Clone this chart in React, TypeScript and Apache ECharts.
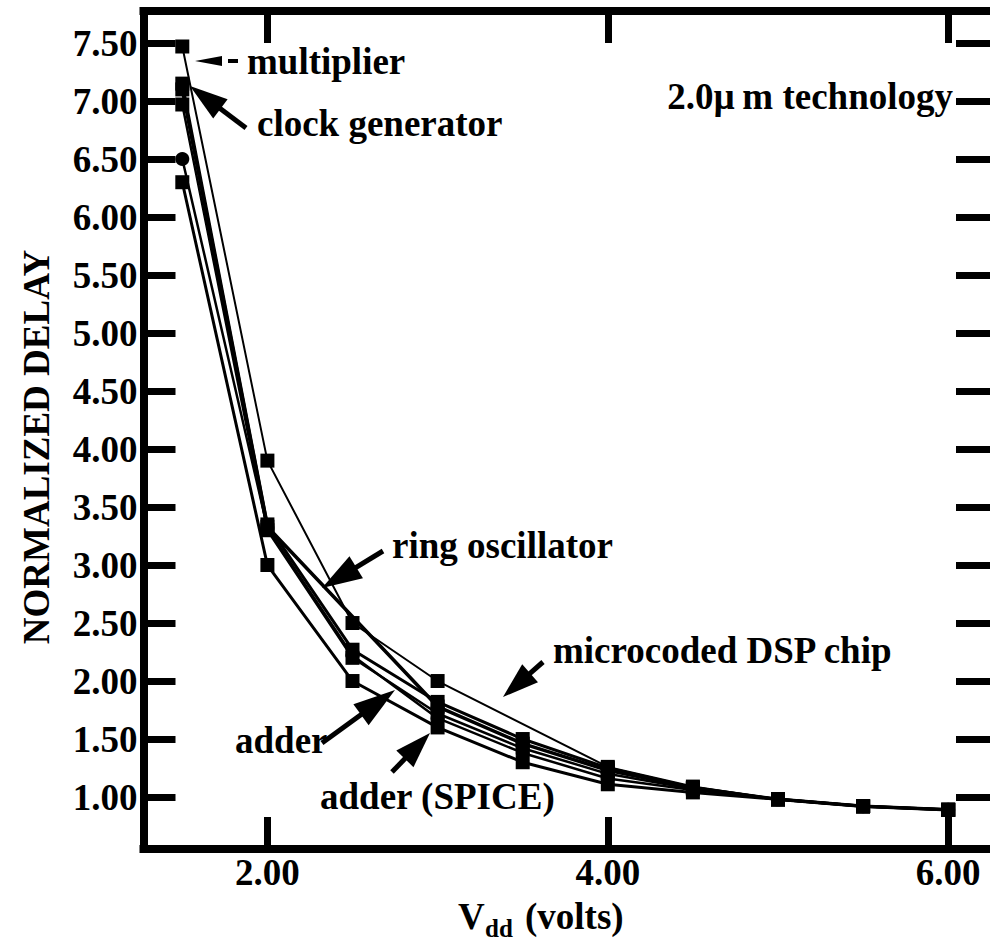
import React, { useEffect, useRef } from "react";
import * as echarts from "echarts";

// Supply voltage (x) values
const VDD = [1.5, 2.0, 2.5, 3.0, 3.5, 4.0, 4.5, 5.0, 5.5, 6.0];

// Normalized delay series (null = no measurement)
const multiplier = [7.47, 3.9, 2.5, 2.0, null, 1.26, 1.09, 0.98, 0.92, 0.89];
const clockGenerator = [7.15, 3.35, 2.27, 1.82, 1.5, 1.25, 1.08, 0.98, 0.92, 0.89];
const ringOscillator = [7.1, 3.33, null, 1.78, 1.46, 1.23, 1.08, 0.98, 0.92, 0.89];
const microcodedDSP = [6.97, 3.3, 2.2, 1.72, 1.42, 1.2, 1.07, 0.98, 0.92, 0.89];
const adder = [6.5, 3.32, 2.22, 1.68, 1.38, 1.16, 1.06, 0.98, 0.92, 0.89];
const adderSpice = [6.3, 3.0, 2.0, 1.6, 1.3, 1.11, 1.04, 0.98, 0.92, 0.89];

const X_TICKS = [2, 4, 6];
const Y_TICKS = [1.0, 1.5, 2.0, 2.5, 3.0, 3.5, 4.0, 4.5, 5.0, 5.5, 6.0, 6.5, 7.0, 7.5];

const X_MIN = 1.272;
const X_MAX = 6.2456;
const Y_MIN = 0.552;
const Y_MAX = 7.776;

const FONT = '"Liberation Serif", "Times New Roman", serif';
const FS = 37;

type S = { name: string; values: (number | null)[]; symbol: string; width: number };
const SERIES: S[] = [
  { name: "multiplier", values: multiplier, symbol: "rect", width: 2 },
  { name: "clock generator", values: clockGenerator, symbol: "rect", width: 3 },
  { name: "ring oscillator", values: ringOscillator, symbol: "rect", width: 3.5 },
  { name: "microcoded DSP chip", values: microcodedDSP, symbol: "rect", width: 2.5 },
  { name: "adder", values: adder, symbol: "circle", width: 2.5 },
  { name: "adder (SPICE)", values: adderSpice, symbol: "rect", width: 3 },
];

function txt(text: string, x: number, y: number, align = "left", fontSize = FS) {
  return {
    type: "text",
    x,
    y,
    z: 100,
    style: {
      text,
      fill: "#000",
      fontSize,
      fontWeight: "bold",
      fontFamily: FONT,
      align,
      verticalAlign: "middle",
    },
  };
}

function arrow(
  tip: [number, number],
  tail: [number, number],
  headLen: number,
  halfW: number,
  lw: number
) {
  const dx = tail[0] - tip[0];
  const dy = tail[1] - tip[1];
  const L = Math.hypot(dx, dy);
  const ux = dx / L;
  const uy = dy / L;
  const bx = tip[0] + ux * headLen;
  const by = tip[1] + uy * headLen;
  const nx = -uy;
  const ny = ux;
  return [
    {
      type: "polygon",
      z: 100,
      shape: {
        points: [
          [tip[0], tip[1]],
          [bx + nx * halfW, by + ny * halfW],
          [bx - nx * halfW, by - ny * halfW],
        ],
      },
      style: { fill: "#000" },
    },
    {
      type: "line",
      z: 100,
      shape: { x1: bx - ux * 2, y1: by - uy * 2, x2: tail[0], y2: tail[1] },
      style: { stroke: "#000", lineWidth: lw },
    },
  ];
}

export default function App() {
  const ref = useRef<HTMLDivElement>(null);

  useEffect(() => {
    document.body.style.margin = "0";
    if (!ref.current) return;
    const chart = echarts.init(ref.current, undefined, { renderer: "svg" });

    const tickStyle = { color: "#000", width: 7 };
    const frameLine = { color: "#000", width: 8, cap: "square" };
    const labelStyle = {
      color: "#000",
      fontFamily: FONT,
      fontWeight: "bold",
      fontSize: FS,
    };

    const option: any = {
      animation: false,
      backgroundColor: "#fff",
      grid: { left: 143.5, top: 11, right: -6, bottom: 96 },
      xAxis: [
        {
          type: "value",
          position: "bottom",
          min: X_MIN,
          max: X_MAX,
          axisLine: { show: true, onZero: false, lineStyle: frameLine },
          axisTick: {
            show: true,
            inside: true,
            length: 32,
            lineStyle: tickStyle,
            customValues: X_TICKS,
          },
          axisLabel: {
            ...labelStyle,
            margin: 5,
            customValues: X_TICKS,
            formatter: (v: number) => v.toFixed(2),
          },
          splitLine: { show: false },
        },
        {
          type: "value",
          position: "top",
          min: X_MIN,
          max: X_MAX,
          axisLine: { show: true, onZero: false, lineStyle: frameLine },
          axisTick: {
            show: true,
            inside: true,
            length: 32,
            lineStyle: tickStyle,
            customValues: X_TICKS,
          },
          axisLabel: { show: false },
          splitLine: { show: false },
        },
      ],
      yAxis: [
        {
          type: "value",
          position: "left",
          min: Y_MIN,
          max: Y_MAX,
          axisLine: { show: true, onZero: false, lineStyle: frameLine },
          axisTick: {
            show: true,
            inside: true,
            length: 32,
            lineStyle: tickStyle,
            customValues: Y_TICKS,
          },
          axisLabel: {
            ...labelStyle,
            margin: 6,
            customValues: Y_TICKS,
            formatter: (v: number) => v.toFixed(2),
          },
          splitLine: { show: false },
        },
        {
          type: "value",
          position: "right",
          min: Y_MIN,
          max: Y_MAX,
          axisLine: { show: false },
          axisTick: {
            show: true,
            inside: true,
            length: 34,
            lineStyle: tickStyle,
            customValues: Y_TICKS,
          },
          axisLabel: { show: false },
          splitLine: { show: false },
        },
      ],
      series: SERIES.map((s) => ({
        type: "line",
        name: s.name,
        xAxisIndex: 0,
        yAxisIndex: 0,
        data: VDD.map((x, i) => [x, s.values[i]]).filter((d) => d[1] !== null),
        symbol: s.symbol,
        symbolSize: 14,
        showSymbol: true,
        connectNulls: true,
        lineStyle: { color: "#000", width: s.width },
        itemStyle: { color: "#000", borderWidth: 0 },
        emphasis: { disabled: true },
        z: 5,
      })),
      graphic: [
        {
          type: "text",
          x: 36,
          y: 447,
          rotation: Math.PI / 2,
          z: 100,
          style: {
            text: "NORMALIZED DELAY",
            fill: "#000",
            fontSize: FS,
            fontWeight: "bold",
            fontFamily: FONT,
            align: "center",
            verticalAlign: "middle",
          },
        },
        txt("V", 458, 916),
        txt("dd", 485, 928, "left", 25),
        txt("(volts)", 525, 916),
        txt("2.0\u00b5\u2009m technology", 953, 96, "right"),
        txt("multiplier", 247, 61),
        txt("clock generator", 257, 123),
        txt("ring oscillator", 392, 545),
        txt("microcoded DSP chip", 553, 650),
        txt("adder", 235, 740),
        txt("adder (SPICE)", 320, 796),
        ...arrow([195, 61], [222, 61], 27, 5, 1),
        {
          type: "line",
          z: 100,
          shape: { x1: 228, y1: 61, x2: 238, y2: 61 },
          style: { stroke: "#000", lineWidth: 4 },
        },
        ...arrow([190, 86], [246, 128], 38, 12, 5),
        ...arrow([322, 588], [383, 551], 40, 13, 5),
        ...arrow([503, 697], [543, 662], 36, 12, 5),
        ...arrow([395, 690], [322, 743], 42, 13, 5),
        ...arrow([430, 733], [392, 772], 36, 12, 5),
      ],
    };

    chart.setOption(option);
    return () => chart.dispose();
  }, []);

  return <div ref={ref} style={{ width: 990, height: 945 }} />;
}
